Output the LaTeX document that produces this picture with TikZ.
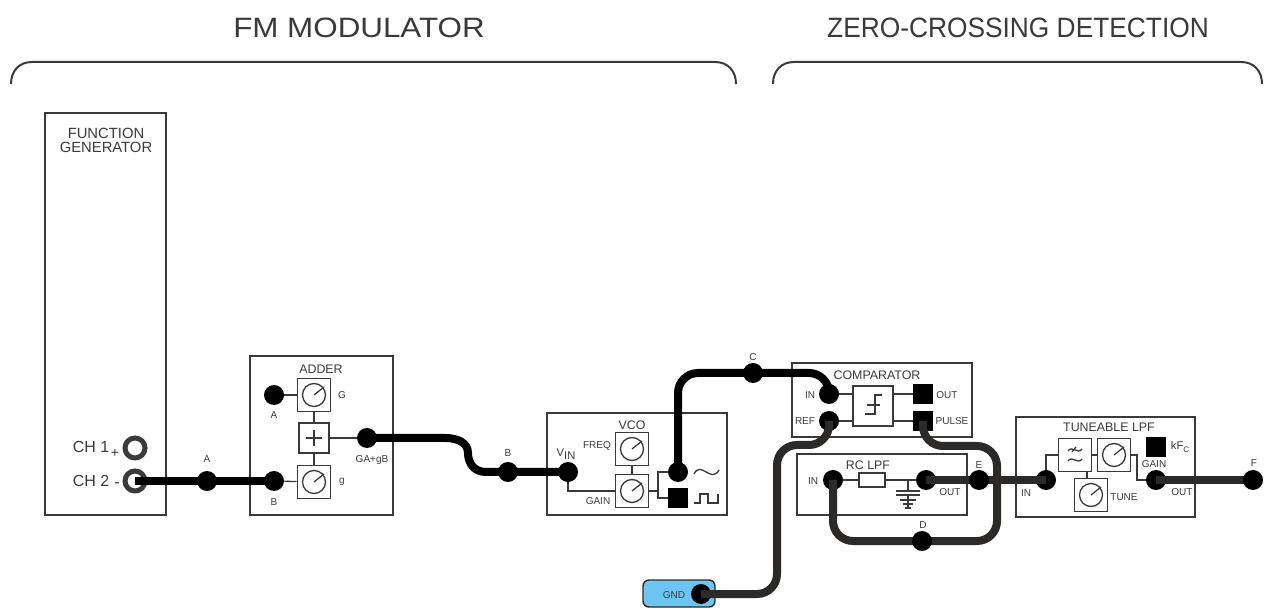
\documentclass[tikz,border=0pt]{standalone}
\usepackage{fontspec}
\setmainfont{Liberation Sans}
\newfontfamily\widefont[FakeStretch=1.12]{Liberation Sans}
\usetikzlibrary{arrows.meta,positioning,calc}
\definecolor{inkgray}{HTML}{3A3A3A}
\definecolor{wiregray}{HTML}{2B2A29}
\definecolor{gndblue}{HTML}{6DC6F2}
\begin{document}
\begin{tikzpicture}[x=0.5pt,y=-0.5pt,
      modbox/.style={draw=inkgray,line width=0.7pt,inner sep=0pt},
      knobbox/.style={draw=inkgray,line width=0.8pt,fill=white,minimum size=16.5pt,inner sep=0pt},
      thinline/.style={draw=inkgray,line width=0.65pt},
      dot/.style={circle,fill=black,minimum size=10pt,inner sep=0pt},
      sqdot/.style={rectangle,fill=black,minimum size=10pt,inner sep=0pt},
      ring/.style={circle,draw=inkgray,line width=2.5pt,minimum size=10pt,inner sep=0pt},
      wire/.style={line width=4pt,rounded corners=10pt},
      blackwire/.style={wire,draw=black},
      graywire/.style={wire,draw=wiregray},
      lab/.style={text=inkgray,inner sep=0pt,font=\fontsize{5}{5}\selectfont},
      mid/.style={text=inkgray,inner sep=0pt,font=\fontsize{6.2}{6.2}\selectfont},
      big/.style={text=inkgray,inner sep=0pt,font=\fontsize{14}{14}\selectfont}]
    \useasboundingbox (0,0) rectangle (1268,608);
    % headings and brackets
    \node[big] (fmtitle) at (359,28) {\widefont FM MODULATOR};
    \node[big] (zctitle) at (1018,28) {\scalebox{0.94}[1]{ZERO-CROSSING DETECTION}};
    \draw[thinline,line width=1pt] (11,84) .. controls (11,71) and (19,62) .. (32,62)
      -- (715,62) .. controls (728,62) and (736,71) .. (736,84);
    \draw[thinline,line width=1pt] (773,84) .. controls (773,71) and (781,62) .. (794,62)
      -- (1241,62) .. controls (1254,62) and (1262,71) .. (1262,84);
    % module outlines
    \node[modbox,minimum width=60.5pt,minimum height=201pt] (fgen) at (105.5,314) {};
    \node[modbox,minimum width=71.5pt,minimum height=79.5pt] (adder) at (321.5,435.5) {};
    \node[modbox,minimum width=90pt,minimum height=51pt] (vco) at (637,464) {};
    \node[modbox,minimum width=90pt,minimum height=37pt] (comp) at (882,400) {};
    \node[modbox,minimum width=85pt,minimum height=30.5pt] (rclpf) at (882,484.5) {};
    \node[modbox,minimum width=89.5pt,minimum height=50pt] (tlpf) at (1105.5,467) {};
    \node[draw=wiregray,line width=0.7pt,fill=gndblue,rounded corners=3pt,minimum width=36pt,minimum height=13.5pt,inner sep=0pt] (gndbox) at (679,593.5) {};
    % inner boxes
    \foreach \k/\x/\y in {addg/314/395,addh/314/482,vfreq/632/449,vgain/632/491,
                          tgain/1114/455,ttune/1091/495} {
      \node[knobbox] (\k) at (\x,\y) {};
      \draw[thinline] (\k.center) circle[radius=11.5];
      \draw[thinline] (\k.center) -- ++(10,-8);}
    \node[knobbox,minimum size=15pt] (addsum) at (314,438) {};
    \draw[thinline,line width=0.7pt] (306,438) -- (322,438) (314,430) -- (314,446);
    \node[knobbox,minimum width=20pt,minimum height=20pt] (cmpbox) at (873,406) {};
    \draw[thinline] (865,414) -- (875,414) -- (875,395) -- (882,395) (867,405) -- (880,405);
    \node[knobbox] (tfilt) at (1075,455) {};
    \draw[thinline] (1068,451) .. controls (1072,445) and (1078,455) .. (1082,449)
      (1068,461) .. controls (1072,455) and (1078,465) .. (1082,459)
      (1072,452) -- (1076,447);
    \node[modbox,fill=white,minimum width=13pt,minimum height=7pt] (rcres) at (872,480) {};
    % terminals
    \node[ring] (ch1) at (135,448) {};
    \node[ring] (ch2) at (135,481) {};
    \node[dot] (adda) at (274,395) {};
    \node[dot] (addb) at (274,481) {};
    \node[dot] (addout) at (367,438) {};
    \node[dot] (vin) at (568,472) {};
    \node[dot] (vsin) at (678,472) {};
    \node[sqdot] (vsq) at (678,498) {};
    \node[dot] (cmpin) at (829,394) {};
    \node[dot] (cmpref) at (829,421) {};
    \node[sqdot] (cmpout) at (923,394) {};
    \node[sqdot] (cmppulse) at (923,421) {};
    \node[dot] (rcin) at (833,480) {};
    \node[dot] (rcout) at (926,480) {};
    \node[dot] (tin) at (1046,480) {};
    \node[dot] (tout) at (1156,480) {};
    \node[sqdot] (tkfc) at (1155.5,447) {};
    \node[dot] (gnd) at (701,594) {};
    % thin links
    \draw[thinline] (adda) -- (addg);
    \draw[thinline] (addb) -- (addh);
    \draw[thinline] (addg) -- (addsum);
    \draw[thinline] (addh) -- (addsum);
    \draw[thinline] (addsum) -- (addout);
    \draw[thinline] (vin) |- (vgain);
    \draw[thinline] (vfreq) -- (vgain);
    \coordinate (vjoin) at (658,491);
    \draw[thinline] (vgain) -- (vjoin);
    \draw[thinline] (vsin.west) -| (vjoin) |- (vsq.west);
    \draw[thinline] (cmpin) -- (cmpin -| cmpbox.west);
    \draw[thinline] (cmpref) -- (cmpref -| cmpbox.west);
    \draw[thinline] (cmpout) -- (cmpout -| cmpbox.east);
    \draw[thinline] (cmppulse) -- (cmppulse -| cmpbox.east);
    \draw[thinline] (rcin) -- (rcin -| rcres.west);
    \draw[thinline] (rcout) -- (rcout -| rcres.east);
    \coordinate (capin) at (908,480);
    \draw[thinline] (capin) -- ++(0,11) ++(-12,0) -- ++(24,0) ++(-24,4) -- ++(24,0)
      ++(-12,0) -- ++(0,13) ++(-8,-8) -- ++(16,0) ++(-13,4) -- ++(10,0) ++(-8,4) -- ++(6,0);
    \draw[thinline] (tin) |- (tfilt);
    \draw[thinline] (tfilt) -- (tgain);
    \draw[thinline] (ttune.north) ++(-4,0) -- ++(0,-6);
    \coordinate (tjoin) at (1137,455);
    \draw[thinline] (tgain) -- (tjoin) |- (tout);
    % patch leads, the joints go on top afterwards
    \coordinate (jfa) at (207,481);
    \coordinate (jfb) at (508,472);
    \coordinate (jfc) at (753,373);
    \coordinate (jfd) at (922,541);
    \coordinate (jfe) at (979,480);
    \coordinate (jff) at (1253,480);
    \coordinate (jfbend) at (997,446);
    \coordinate (jfgnd) at (777,445);
    \draw[blackwire] (ch2.center) -- (jfa) -- (addb.center);
    \draw[blackwire,sharp corners] (addout.center) -- (445,438) .. controls (458,438) and (468,443) .. (468,453)
      .. controls (468,463) and (474,472) .. (486,472) -- (jfb) -- (vin.center);
    \draw[blackwire] (vsin.center) |- (jfc) -| (cmpin.center);
    \draw[graywire] (cmpref.center) |- (jfgnd) |- (gnd.center);
    \draw[graywire] (cmppulse.center) |- (jfbend) |- (jfd) -| (rcin.center);
    \draw[graywire] (rcout.center) -- (jfe) -- (tin.center);
    \draw[graywire] (tout.center) -- (jff);
    \foreach \j/\p in {dota/jfa,dotb/jfb,dotc/jfc,dotd/jfd,dote/jfe,dotf/jff} {
      \node[dot] (\j) at (\p) {};}
    % wave marks
    \draw[thinline] (694,474) .. controls (701,460) and (711,484) .. (719,470);
    \draw[thinline] (694,503) -- (700,503) -- (700,494) -- (708,494) -- (708,503) -- (718,503) -- (718,494);
    % texts
    \foreach \n/\x/\y/\t in {la/207/459/A,lb/508/453/B,lc/753/357/C,ld/923/525/D,le/979/465/E,lf/1254/463/F,
        laa/274/415/A,lab/274/502/B,lg/342/395/G,lh/342/482/g,lsum/372/460/GA+gB,
        lfreq/597/446/FREQ,lgain/598/501/GAIN,lcin/810/395/IN,lcref/805/421/REF,
        lcout/947/395/OUT,lcpul/952/421/PULSE,lrin/813/481/IN,lrout/950/492/OUT,
        ltin/1026/493/IN,ltune/1124/497/TUNE,ltgain/1154/464/GAIN,ltout/1182/492/OUT,lgnd/674/595/GND} {
      \node[lab] (\n) at (\x,\y) {\t};}
    \foreach \n/\x/\y/\t in {tadd/321/369/ADDER,tvco/632/425/VCO,tcmp/877/375/COMPARATOR,
        trc/868/465/RC LPF,ttl/1109/427/TUNEABLE LPF} {
      \node[mid] (\n) at (\x,\y) {\t};}
    \node[mid,font=\fontsize{7.4}{7.4}\selectfont,align=center] (tfg) at (106,140) {FUNCTION\\[-0.4pt]GENERATOR};
    \node[mid,font=\fontsize{8}{8}\selectfont] (lch1) at (91,447) {CH 1};
    \node[mid,font=\fontsize{8}{8}\selectfont] (lch2) at (91,481) {CH 2};
    \node[lab,font=\fontsize{7}{7}\selectfont] (lplus) at (115,453) {+};
    \node[lab,font=\fontsize{8}{8}\selectfont] (lminus) at (117,485) {-};
    \node[lab,font=\fontsize{5.6}{5.6}\selectfont] (lvin) at (566,454) {V\raisebox{-1.6pt}{IN}};
    \node[lab,font=\fontsize{5.6}{5.6}\selectfont] (lkfc) at (1180,447) {kF\raisebox{-1.4pt}{\fontsize{4}{4}\selectfont C}};
\end{tikzpicture}
\end{document}
